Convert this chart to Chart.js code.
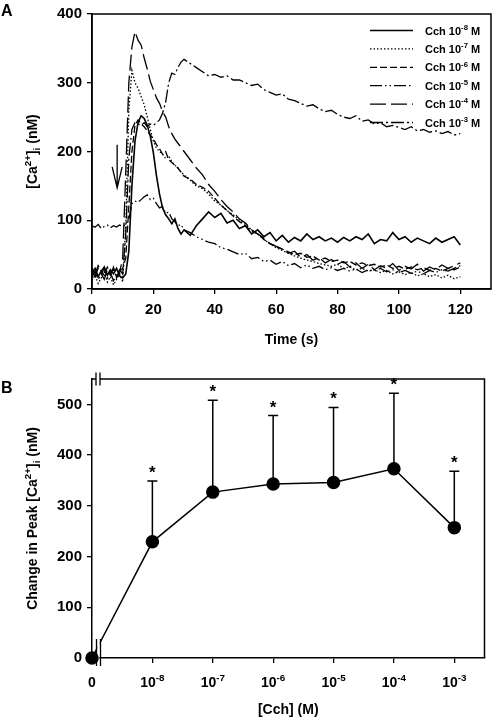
<!DOCTYPE html>
<html>
<head>
<meta charset="utf-8">
<script src="https://cdn.jsdelivr.net/npm/chart.js@4.4.1/dist/chart.umd.min.js"></script>
<style>
  body { margin: 0; background: #fff; }
  #wrap { position: relative; width: 492px; height: 718px; }
  canvas { position: absolute; left: 0; }
  #chartA { top: 0; }
  #chartB { top: 350px; }
</style>
</head>
<body>
<div id="wrap">
  <canvas id="chartA" width="492" height="350"></canvas>
  <canvas id="chartB" width="492" height="368"></canvas>
</div>
<script>
var FONT = "Arial, 'Liberation Sans', sans-serif";

// ---- Panel A: [Ca2+]i traces (nM) against time (s) ----
var timeSec = [0,1,2,3,4,5,6,7,8,9,10,11,12,13,14,15,16,17,18,19,20,21,22,23,24,25,26,27,28,29,30,
  32,34,36,38,40,42,44,46,48,50,52,54,56,58,60,62,64,66,68,70,72,74,76,78,80,82,84,86,88,90,
  92,94,96,98,100,102,104,106,108,110,112,114,116,118,120];

var cch8 = [24,30,18,26,32,20,28,22,30,19,16,22,55,150,215,242,252,248,238,222,198,165,138,118,108,102,95,102,88,80,86,
  78,92,102,112,104,110,96,100,88,92,80,86,76,82,70,78,68,75,70,80,72,76,70,74,68,75,70,76,72,80,66,72,70,82,72,76,68,74,70,66,74,68,72,76,64];
var cch7 = [12,20,8,16,25,10,18,6,14,22,10,90,260,318,300,292,280,268,250,232,215,205,200,196,190,194,185,180,176,170,166,
  158,150,146,138,128,122,114,108,100,94,86,80,72,66,60,56,52,48,45,42,40,37,35,33,36,30,32,28,30,26,28,24,27,22,25,21,24,19,22,18,21,16,20,15,18];
var cch6 = [30,22,34,26,20,32,24,28,18,26,30,45,120,200,238,246,240,236,230,224,218,210,204,196,200,188,184,180,176,170,164,
  160,152,148,142,132,122,114,106,98,92,84,80,72,66,62,58,54,50,52,46,48,42,45,40,42,38,40,35,38,34,36,32,35,30,33,29,32,28,31,27,30,26,30,28,32];
var cch5 = [92,90,94,88,91,93,89,92,90,93,91,94,102,124,128,126,130,134,137,130,132,124,118,120,110,112,102,98,92,94,86,
  82,76,72,68,66,60,58,54,50,52,44,46,40,42,36,40,34,37,31,35,30,33,28,31,27,30,26,29,24,28,26,30,25,28,24,27,23,26,22,27,24,28,26,30,34];
var cch4 = [26,18,30,22,14,28,20,32,16,24,45,170,300,352,374,362,355,336,320,302,290,278,270,258,250,236,226,218,212,206,200,
  188,176,166,152,142,130,120,112,102,96,86,80,74,66,62,58,52,55,46,50,42,46,38,43,36,40,32,38,30,36,28,34,30,37,27,33,29,36,26,32,28,35,30,34,38];
var cch3 = [18,26,14,22,30,16,24,12,20,28,22,80,190,232,242,240,238,242,236,240,238,242,246,256,272,300,314,312,322,330,334,
  328,322,316,310,312,308,310,304,304,300,296,298,290,286,282,284,276,274,270,266,268,262,258,260,254,250,248,252,244,246,240,242,236,238,235,232,236,230,232,228,230,226,229,224,226];

var traceLabels = ['Cch 10^-8 M', 'Cch 10^-7 M', 'Cch 10^-6 M', 'Cch 10^-5 M', 'Cch 10^-4 M', 'Cch 10^-3 M'];
var traceDash = [[], [1.5, 2], [7, 3], [12, 3, 1.5, 3, 1.5, 3], [16, 5], [13, 3, 2, 3]];
var traceWidth = [1.6, 1.3, 1.3, 1.3, 1.3, 1.3];

// arrow marking Cch addition: time (s), from / to (nM)
var arrowTime = 8.2, arrowFrom = 210, arrowTo = 147;

// ---- Panel B: change in peak [Ca2+]i against [Cch] ----
var doseLabels = ['0', '10^-8', '10^-7', '10^-6', '10^-5', '10^-4', '10^-3'];
var peakMean = [0, 229, 327, 343, 346, 373, 257];
var peakSd = [0, 120, 181, 135, 148, 149, 111];
var peakSig = [false, true, true, true, true, true, true];

function supParts(s) {
  var i = s.indexOf('^');
  if (i < 0) return [[s, 0]];
  var rest = s.slice(i + 1), j = rest.indexOf(' ');
  if (j < 0) return [[s.slice(0, i), 0], [rest, 1]];
  return [[s.slice(0, i), 0], [rest.slice(0, j), 1], [rest.slice(j), 0]];
}

// draws text with superscript (1) / subscript (-1) pieces, y is the baseline
function drawRich(ctx, parts, x, y, size, align) {
  var small = size * 0.7, w = 0;
  parts.forEach(function(p) {
    ctx.font = 'bold ' + (p[1] ? small : size) + 'px ' + FONT;
    w += ctx.measureText(p[0]).width;
  });
  var cx = align === 'center' ? x - w / 2 : x;
  ctx.textAlign = 'left';
  ctx.textBaseline = 'alphabetic';
  ctx.fillStyle = '#000';
  parts.forEach(function(p) {
    ctx.font = 'bold ' + (p[1] ? small : size) + 'px ' + FONT;
    var dy = p[1] === 1 ? -size * 0.42 : (p[1] === -1 ? size * 0.22 : 0);
    ctx.fillText(p[0], cx, y + dy);
    cx += ctx.measureText(p[0]).width;
  });
}

function tickFont() {
  return { family: FONT, size: 15, weight: 'bold' };
}
var axisGrid = { drawOnChartArea: false, drawTicks: true, tickLength: 5, color: '#000', lineWidth: 1.3 };
var axisBorder = { display: true, color: '#000', width: 1.5 };

var panelA = {
  id: 'panelA',
  afterDraw: function(chart) {
    var ctx = chart.ctx, a = chart.chartArea;
    var xs = chart.scales.x, ys = chart.scales.y;
    ctx.save();
    ctx.strokeStyle = '#000';
    ctx.lineWidth = 1.5;
    ctx.strokeRect(a.left, a.top, a.right - a.left, a.bottom - a.top);

    // arrow
    var ax = xs.getPixelForValue(arrowTime);
    var y1 = ys.getPixelForValue(arrowFrom), y2 = ys.getPixelForValue(arrowTo);
    ctx.lineWidth = 1.3;
    ctx.beginPath();
    ctx.moveTo(ax, y1); ctx.lineTo(ax, y2);
    ctx.moveTo(ax - 5, y2 - 21); ctx.lineTo(ax, y2); ctx.lineTo(ax + 5, y2 - 21);
    ctx.stroke();

    // legend
    chart.data.datasets.forEach(function(ds, i) {
      var ry = a.top + 16.5 + i * 18.4;
      ctx.save();
      ctx.lineWidth = ds.borderWidth;
      ctx.setLineDash(ds.borderDash);
      ctx.beginPath();
      ctx.moveTo(a.right - 121, ry); ctx.lineTo(a.right - 78, ry);
      ctx.stroke();
      ctx.restore();
      drawRich(ctx, supParts(traceLabels[i]), a.right - 66, ry + 4, 11, 'left');
    });

    // titles
    drawRich(ctx, [['Time (s)', 0]], (a.left + a.right) / 2, a.bottom + 55, 14, 'center');
    ctx.save();
    ctx.translate(37, (a.top + a.bottom) / 2);
    ctx.rotate(-Math.PI / 2);
    drawRich(ctx, [['[Ca', 0], ['2+', 1], [']', 0], ['i', -1], [' (nM)', 0]], 0, 0, 14, 'center');
    ctx.restore();
    drawRich(ctx, [['A', 0]], 1, 16, 16, 'left');
    ctx.restore();
  }
};

var panelB = {
  id: 'panelB',
  beforeDatasetsDraw: function(chart) {
    var ctx = chart.ctx, a = chart.chartArea;
    var xs = chart.scales.x, ys = chart.scales.y;
    ctx.save();
    ctx.strokeStyle = '#000';
    ctx.lineWidth = 1.5;
    // frame with axis breaks
    ctx.beginPath();
    ctx.moveTo(a.left, a.top); ctx.lineTo(a.left + 4, a.top);
    ctx.moveTo(a.left + 8, a.top); ctx.lineTo(a.right, a.top); ctx.lineTo(a.right, a.bottom);
    ctx.stroke();
    ctx.fillStyle = '#fff';
    ctx.fillRect(a.left + 4.8, a.bottom - 2, 2.4, 4);
    ctx.lineWidth = 1.3;
    ctx.beginPath();
    ctx.moveTo(a.left + 4, a.top - 6.5); ctx.lineTo(a.left + 4, a.top + 6.5);
    ctx.moveTo(a.left + 8, a.top - 6.5); ctx.lineTo(a.left + 8, a.top + 6.5);
    ctx.moveTo(a.left + 4.5, a.bottom - 7); ctx.lineTo(a.left + 4.5, a.bottom + 8);
    ctx.moveTo(a.left + 8.5, a.bottom - 7); ctx.lineTo(a.left + 8.5, a.bottom + 8);
    ctx.stroke();

    // error bars (upper only)
    ctx.lineWidth = 1.5;
    peakMean.forEach(function(m, i) {
      if (!peakSd[i]) return;
      var x = xs.getPixelForValue(i);
      var yt = ys.getPixelForValue(m + peakSd[i]);
      ctx.beginPath();
      ctx.moveTo(x, ys.getPixelForValue(m)); ctx.lineTo(x, yt);
      ctx.moveTo(x - 5, yt); ctx.lineTo(x + 5, yt);
      ctx.stroke();
    });
    ctx.restore();
  },
  afterDatasetsDraw: function(chart) {
    var ctx = chart.ctx, a = chart.chartArea;
    var xs = chart.scales.x, ys = chart.scales.y;
    ctx.save();
    // break on the line between 0 and the first dose
    var x0 = xs.getPixelForValue(0), y0 = ys.getPixelForValue(peakMean[0]);
    var x1 = xs.getPixelForValue(1), y1 = ys.getPixelForValue(peakMean[1]);
    var bx = a.left + 6.5, by = y0 + (y1 - y0) * (bx - x0) / (x1 - x0);
    ctx.fillStyle = '#fff';
    ctx.fillRect(a.left + 5.2, by - 7, 2.6, 14);
    ctx.strokeStyle = '#000';
    ctx.lineWidth = 1.3;
    ctx.beginPath();
    ctx.moveTo(a.left + 4.5, by - 6.5); ctx.lineTo(a.left + 4.5, by + 6.5);
    ctx.moveTo(a.left + 8.5, by - 6.5); ctx.lineTo(a.left + 8.5, by + 6.5);
    ctx.stroke();

    // significance stars
    ctx.fillStyle = '#000';
    ctx.font = 'bold 17px ' + FONT;
    ctx.textAlign = 'center';
    ctx.textBaseline = 'alphabetic';
    peakMean.forEach(function(m, i) {
      if (!peakSig[i]) return;
      ctx.fillText('*', xs.getPixelForValue(i), ys.getPixelForValue(m + peakSd[i]) - 3);
    });

    // dose tick labels
    doseLabels.forEach(function(lab, i) {
      drawRich(ctx, supParts(lab), xs.getPixelForValue(i), a.bottom + 29, 14, 'center');
    });

    // titles
    drawRich(ctx, [['[Cch] (M)', 0]], (a.left + a.right) / 2, a.bottom + 56, 14, 'center');
    ctx.save();
    ctx.translate(37, (a.top + a.bottom) / 2);
    ctx.rotate(-Math.PI / 2);
    drawRich(ctx, [['Change in Peak [Ca', 0], ['2+', 1], [']', 0], ['i', -1], [' (nM)', 0]], 0, 0, 14, 'center');
    ctx.restore();
    drawRich(ctx, [['B', 0]], 1, 43, 16, 'left');
    ctx.restore();
  }
};

new Chart(document.getElementById('chartA'), {
  type: 'line',
  data: {
    datasets: [cch8, cch7, cch6, cch5, cch4, cch3].map(function(vals, i) {
      return {
        label: traceLabels[i],
        data: vals.map(function(v, j) { return { x: timeSec[j], y: v }; }),
        borderColor: '#000',
        borderWidth: traceWidth[i],
        borderDash: traceDash[i],
        pointRadius: 0,
        tension: 0,
        fill: false
      };
    })
  },
  options: {
    responsive: false,
    animation: false,
    devicePixelRatio: 1,
    layout: { padding: { top: 10, right: 1, left: 0, bottom: 0 } },
    plugins: { legend: { display: false }, tooltip: { enabled: false } },
    scales: {
      x: {
        type: 'linear', min: 0, max: 130,
        afterFit: function(s) { s.height = 61; },
        ticks: { stepSize: 20, includeBounds: false, color: '#000', font: tickFont(), padding: 7, maxRotation: 0 },
        grid: axisGrid, border: axisBorder
      },
      y: {
        min: 0, max: 400,
        afterFit: function(s) { s.width = 92; },
        ticks: { stepSize: 100, color: '#000', font: tickFont(), padding: 5 },
        grid: axisGrid, border: axisBorder
      }
    }
  },
  plugins: [panelA]
});

new Chart(document.getElementById('chartB'), {
  type: 'line',
  data: {
    datasets: [{
      label: 'Change in peak',
      data: peakMean.map(function(v, i) { return { x: i, y: v }; }),
      borderColor: '#000',
      borderWidth: 1.5,
      pointRadius: 6,
      pointBackgroundColor: '#000',
      pointBorderColor: '#000',
      tension: 0,
      clip: false
    }]
  },
  options: {
    responsive: false,
    animation: false,
    devicePixelRatio: 1,
    layout: { padding: { top: 29, right: 1, left: 0, bottom: 0 } },
    plugins: { legend: { display: false }, tooltip: { enabled: false } },
    scales: {
      x: {
        type: 'linear', min: 0, max: 6.5,
        afterFit: function(s) { s.height = 60; },
        ticks: { stepSize: 1, includeBounds: false, callback: function() { return ''; } },
        grid: {
          drawOnChartArea: false, drawTicks: true, tickLength: 5, lineWidth: 1.3,
          tickColor: function(c) { return c.index === 0 ? 'rgba(0,0,0,0)' : '#000'; }
        },
        border: axisBorder
      },
      y: {
        min: 0, max: 550,
        afterFit: function(s) { s.width = 92; },
        ticks: { stepSize: 100, includeBounds: false, color: '#000', font: tickFont(), padding: 5 },
        grid: axisGrid, border: axisBorder
      }
    }
  },
  plugins: [panelB]
});
</script>
</body>
</html>
